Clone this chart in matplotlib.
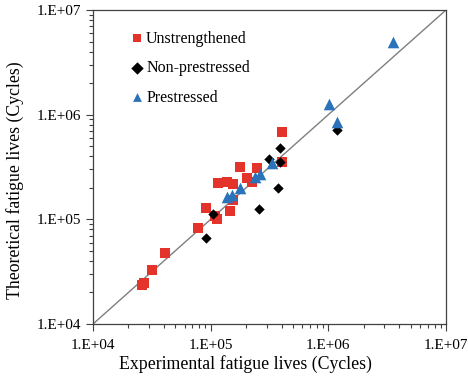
import matplotlib
matplotlib.use("Agg")
import matplotlib.pyplot as plt
from matplotlib.ticker import FixedLocator, FixedFormatter, LogLocator, NullFormatter

plt.rcParams['font.family'] = ['Liberation Serif', 'DejaVu Serif']

# Data (experimental, theoretical)
unstr_x = [26200, 27100, 31900, 41100, 78500, 91200, 108800, 113100, 115300, 136800,
           156200, 177400, 202300, 145900, 155600, 224400, 249800, 401200, 401200]
unstr_y = [23600, 24800, 32900, 47400, 81900, 127600, 107800, 100900, 222600, 229100,
           217800, 318600, 247100, 121100, 153100, 229100, 306300, 688700, 355700]

nonp_x = [90700, 105200, 257200, 312900, 388000, 388000, 373200, 1194000]
nonp_y = [65700, 112700, 125700, 375000, 477500, 355700, 199500, 714000]

pre_x = [137600, 151700, 179100, 237800, 262300, 331700, 1012000, 1183000, 3559000]
pre_y = [163600, 171000, 200400, 255700, 268500, 343600, 1265000, 842500, 4981000]

tick_vals = [1e4, 1e5, 1e6, 1e7]
tick_labels = ["1.E+04", "1.E+05", "1.E+06", "1.E+07"]

fig = plt.figure(figsize=(4.68, 3.81), dpi=100)
ax = fig.add_axes([93/468, 1 - 324/381, (446-93)/468, (324-10)/381])

ax.plot([tick_vals[0], tick_vals[-1]], [tick_vals[0], tick_vals[-1]],
        color='#7f7f7f', lw=1.0, zorder=1)

ax.scatter(unstr_x, unstr_y, marker='s', s=52, color='#E3332A', linewidths=0,
           label='Unstrengthened', zorder=3)
ax.scatter(nonp_x, nonp_y, marker='D', s=28, color='black', linewidths=0,
           label='Non-prestressed', zorder=4)
ax.scatter(pre_x, pre_y, marker='^', s=70, color='#2A73BA', linewidths=0,
           label='Prestressed', zorder=5)

ax.set_xscale('log')
ax.set_yscale('log')
ax.set_xlim(tick_vals[0], tick_vals[-1])
ax.set_ylim(tick_vals[0], tick_vals[-1])

for axis in (ax.xaxis, ax.yaxis):
    axis.set_major_locator(FixedLocator(tick_vals))
    axis.set_major_formatter(FixedFormatter(tick_labels))
    axis.set_minor_locator(LogLocator(base=10, subs=range(2, 10)))
    axis.set_minor_formatter(NullFormatter())

ax.tick_params(which='major', direction='out', length=5, width=0.8, labelsize=11,
               color='#404040', top=False, right=False)
ax.tick_params(which='minor', direction='out', length=3, width=0.8,
               color='#404040', top=False, right=False)
ax.tick_params(axis='x', which='major', pad=6)

for sp in ax.spines.values():
    sp.set_color('#404040')
    sp.set_linewidth(0.9)

ax.set_xlabel('Experimental fatigue lives (Cycles)', fontsize=12.8)
ax.set_ylabel('Theoretical fatigue lives (Cycles)', fontsize=12.8)
ax.xaxis.set_label_coords((245 - 93) / 353, -(364 - 324) / 314)
ax.yaxis.set_label_coords(-(93 - 15) / 353, (324 - 180) / 314)
ax.xaxis.label.set_va('center')
ax.yaxis.label.set_va('center')

leg = ax.legend(loc='upper left', frameon=False, fontsize=11.5, handletextpad=0.05,
                labelspacing=0.85, handlelength=1.0, borderaxespad=0.0,
                bbox_to_anchor=(0.085, 0.955), scatterpoints=1)
for h in leg.legend_handles:
    h.set_sizes([40])

fig.savefig('out.png', dpi=100)
